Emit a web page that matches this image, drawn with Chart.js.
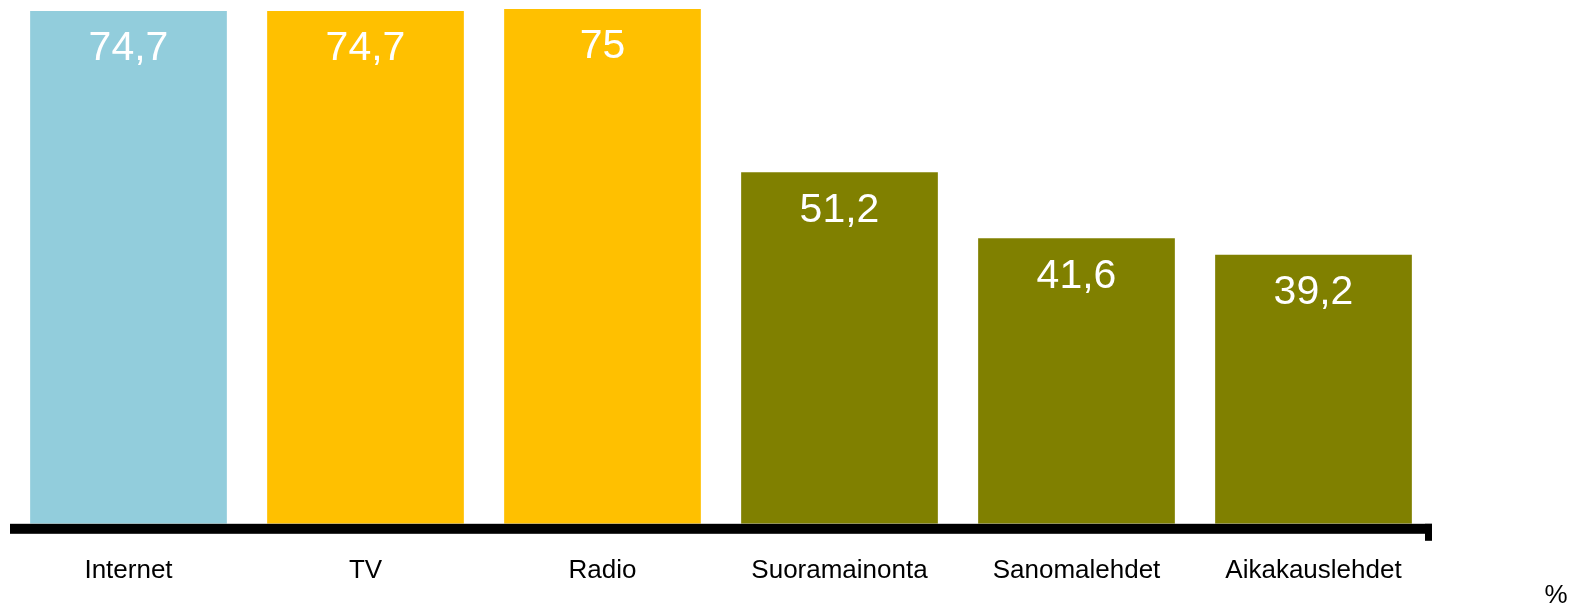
<!DOCTYPE html>
<html>
<head>
<meta charset="utf-8">
<script src="https://cdn.jsdelivr.net/npm/chart.js@4"></script>
<style>
  body { margin: 0; background: #fff; }
  canvas { display: block; }
</style>
</head>
<body>
<canvas id="mediaChart" width="1579" height="608"></canvas>
<script>
// categories and values
let categories = ["Internet", "TV", "Radio", "Suoramainonta", "Sanomalehdet", "Aikakauslehdet"];
let shares = [74.7, 74.7, 75, 51.2, 41.6, 39.2];
let barColors = ["#92CDDC", "#FFC000", "#FFC000", "#808000", "#808000", "#808000"];
let unitLabel = "%";

let canvas = document.querySelector("#mediaChart");
let context = canvas.getContext("2d");

// values inside the bars, white, comma as decimal separator
let valueLabels = {
  id: "valueLabels",
  afterDatasetsDraw(chart) {
    let ctx = chart.ctx;
    let meta = chart.getDatasetMeta(0);
    ctx.save();
    ctx.fillStyle = "#fff";
    ctx.font = "41px 'Liberation Sans', Arial, sans-serif";
    ctx.textAlign = "center";
    ctx.textBaseline = "middle";
    meta.data.forEach(function (bar, i) {
      let text = String(shares[i]).replace(".", ",");
      ctx.fillText(text, bar.x, bar.y + 38);
    });
    ctx.restore();
  },
  // thick base line with the small end tick, and the unit sign
  afterDraw(chart) {
    let ctx = chart.ctx;
    let area = chart.chartArea;
    ctx.save();
    ctx.fillStyle = "#000";
    ctx.fillRect(area.left, area.bottom, area.right - area.left, 10);
    ctx.fillRect(area.right - 7, area.bottom, 7, 17);
    ctx.font = "26px 'Liberation Sans', Arial, sans-serif";
    ctx.textAlign = "center";
    ctx.textBaseline = "middle";
    ctx.fillText(unitLabel, 1556, 596);
    ctx.restore();
  },
};

let mediaChart = new Chart(context, {
  type: "bar",
  data: {
    labels: categories,
    datasets: [
      {
        data: shares,
        backgroundColor: barColors,
        categoryPercentage: 1,
        barPercentage: 0.83,
      },
    ],
  },
  options: {
    responsive: false,
    animation: false,
    layout: {
      padding: { left: 10, right: 147, top: 0, bottom: -1 },
    },
    plugins: {
      legend: { display: false },
      tooltip: { enabled: false },
    },
    scales: {
      x: {
        grid: { display: false },
        border: { display: false },
        ticks: {
          color: "#000",
          padding: 23,
          font: { family: "'Liberation Sans', Arial, sans-serif", size: 26 },
        },
      },
      y: {
        display: false,
        min: 0,
        max: 76.3,
      },
    },
  },
  plugins: [valueLabels],
});
</script>
</body>
</html>
